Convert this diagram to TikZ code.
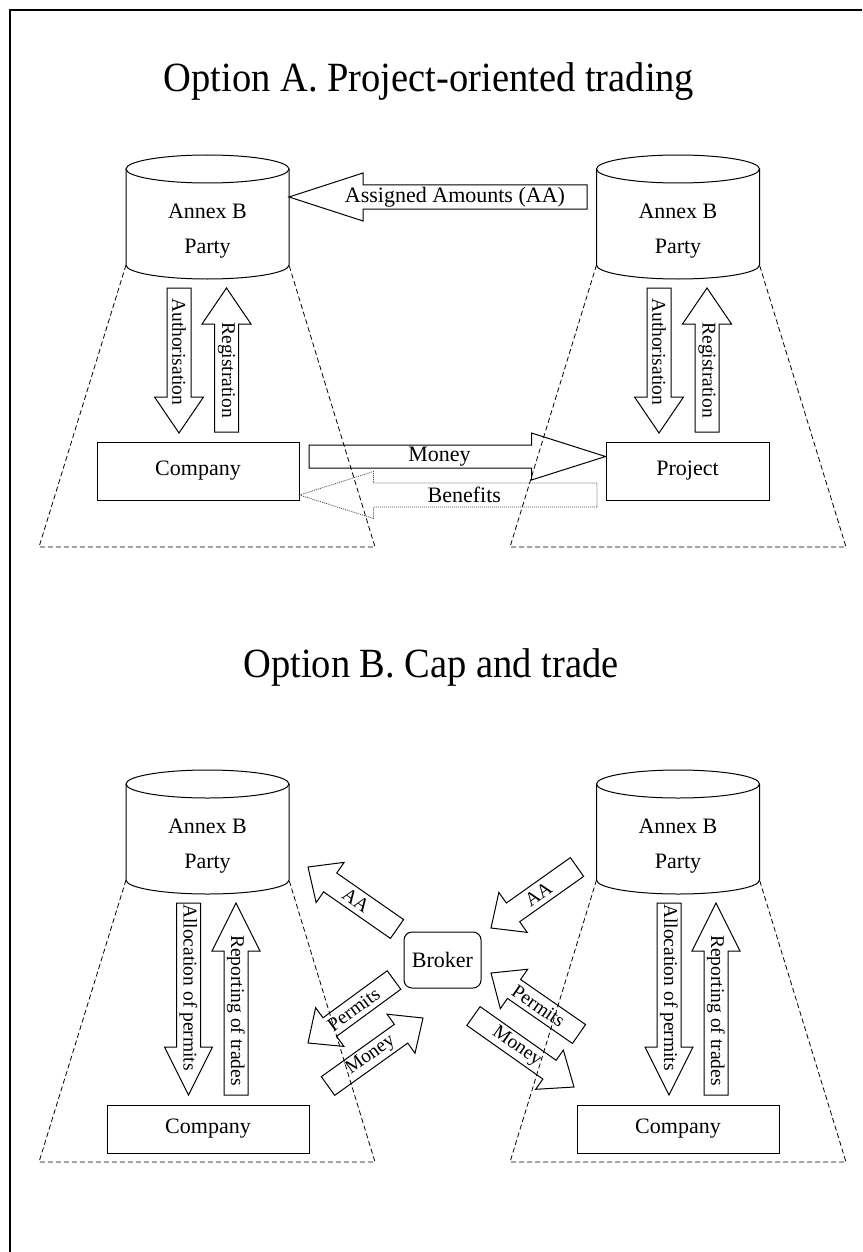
\documentclass[tikz,border=0pt]{standalone}
\usepackage{fontspec}
\setmainfont{Liberation Serif}
\usetikzlibrary{calc}
\tikzset{
  outl/.style={line width=1pt},
  frameline/.style={line width=2.6pt},
  trap/.style={line width=0.8pt, dash pattern=on 5pt off 3pt},
  arr/.style={line width=1pt, line join=miter},
  dotarr/.style={line width=0.8pt, draw=black!70, dash pattern=on 1pt off 1pt},
  lbl/.style={font=\fontsize{22}{26}\selectfont, inner sep=0pt},
  vlbl/.style={font=\fontsize{19.5}{23}\selectfont, inner sep=0pt},
  cyltext/.style={font=\fontsize{22}{35}\selectfont, align=center, inner sep=0pt},
  titletext/.style={font=\fontsize{38.5}{40}\selectfont, inner sep=0pt, anchor=base},
  boxnode/.style={draw, line width=1pt, inner sep=0pt, font=\fontsize{22}{26}\selectfont},
}
% tail, tip, shaft half width, head half width, head length
\newcommand\blockarrow[6][]{%
  \coordinate (hb) at ($(#3)!#6!(#2)$);
  \draw[arr,#1] ($(#2)!#4!90:(#3)$) -- ($(hb)!#4!90:(#3)$) -- ($(hb)!#5!90:(#3)$) -- (#3)
    -- ($(hb)!#5!-90:(#3)$) -- ($(hb)!#4!-90:(#3)$) -- ($(#2)!#4!-90:(#3)$) -- cycle;
}
% name, centre x, top-ellipse y
\newcommand\annexdrum[3]{%
  \draw[outl] (#2,#3) ellipse [x radius=81.5pt, y radius=14pt];
  \draw[outl] (#2-81.5,#3) -- (#2-81.5,#3+96)
     arc [start angle=180, end angle=360, x radius=81.5pt, y radius=14pt] -- (#2+81.5,#3);
  \node[cyltext] (#1) at (#2,#3+62.5) {Annex B\\Party};
  \coordinate (#1-bl) at (#2-81.5,#3+96);
  \coordinate (#1-br) at (#2+81.5,#3+96);
}
\begin{document}
\begin{tikzpicture}[x=1pt,y=-1pt]
\useasboundingbox (0,0) rectangle (862,1252);
% frame
\draw[frameline] (10,1252) -- (10,10) -- (862,10);

% ================= Option A =================
\node[titletext] (titleA) at (429,92) {\scalebox{1}[1.08]{Option A. Project-oriented trading}};

\annexdrum{partyAL}{207.5}{169}
\annexdrum{partyAR}{678}{169}

\draw[trap] (partyAL-bl) -- (39,547) -- (375,547) -- (partyAL-br);
\draw[trap] (partyAR-bl) -- (510,547) -- (846,547) -- (partyAR-br);

\node[boxnode, minimum width=202pt, minimum height=58pt] (companyA) at (198,471) {Company};
\node[boxnode, minimum width=163pt, minimum height=58pt] (project) at (687.5,471) {Project};

% Assigned Amounts
\coordinate (aaT) at (587,197);
\coordinate (aaH) at (289,197);
\blockarrow{aaT}{aaH}{12pt}{24pt}{74pt}
\path (aaT) -- (aaH) node[lbl, pos=.443, sloped] (lblAA) {Assigned Amounts (AA)};

% vertical arrows A
\coordinate (authLT) at (179,288);  \coordinate (authLH) at (179,433);
\coordinate (regLT) at (226.5,432); \coordinate (regLH) at (226.5,288);
\coordinate (authRT) at (659,288);  \coordinate (authRH) at (659,433);
\coordinate (regRT) at (707,432);   \coordinate (regRH) at (707,288);
\blockarrow{authLT}{authLH}{12pt}{24.5pt}{36pt}
\blockarrow{regLT}{regLH}{12pt}{24.5pt}{36pt}
\blockarrow{authRT}{authRH}{12pt}{24.5pt}{36pt}
\blockarrow{regRT}{regRH}{12pt}{24.5pt}{36pt}
\path (authLT) -- (authLH) node[vlbl, pos=.44, rotate=-90] (lblAuthL) {Authorisation};
\path (regLT) -- (regLH) node[vlbl, pos=.43, rotate=-90] (lblRegL) {Registration};
\path (authRT) -- (authRH) node[vlbl, pos=.44, rotate=-90] (lblAuthR) {Authorisation};
\path (regRT) -- (regRH) node[vlbl, pos=.43, rotate=-90] (lblRegR) {Registration};

% Money and Benefits
\coordinate (monAT) at (309,456.5);
\coordinate (monAH) at ($(project.west)+(0,-14.5)$);
\blockarrow{monAT}{monAH}{11.5pt}{23.5pt}{74pt}
\path (monAT) -- (monAH) node[lbl, pos=.44, sloped] (lblMonA) {Money};

\coordinate (benT) at (597,495);
\coordinate (benH) at ($(companyA.east)+(0,24)$);
\blockarrow[dotarr]{benT}{benH}{12pt}{23.5pt}{74pt}
\path (benT) -- (benH) node[lbl, pos=.446, sloped] (lblBen) {Benefits};

% ================= Option B =================
\node[titletext] (titleB) at (431,677) {\scalebox{1}[1.08]{Option B. Cap and trade}};

\annexdrum{partyBL}{207.5}{784}
\annexdrum{partyBR}{678}{784}

\draw[trap] (partyBL-bl) -- (39,1162) -- (375,1162) -- (partyBL-br);
\draw[trap] (partyBR-bl) -- (510,1162) -- (846,1162) -- (partyBR-br);

\node[boxnode, minimum width=202pt, minimum height=48pt] (companyBL) at (208,1129) {Company};
\node[boxnode, minimum width=202pt, minimum height=48pt] (companyBR) at (678,1129) {Company};

\node[boxnode, rounded corners=8pt, minimum width=77pt, minimum height=56pt] (broker) at (442.5,960) {Broker};

% vertical arrows B
\coordinate (allLT) at (188.5,903); \coordinate (allLH) at (188.5,1095);
\coordinate (repLT) at (236,1095);  \coordinate (repLH) at (236,903);
\coordinate (allRT) at (669,903);   \coordinate (allRH) at (669,1095);
\coordinate (repRT) at (716,1095);  \coordinate (repRH) at (716,903);
\blockarrow{allLT}{allLH}{12pt}{24pt}{48pt}
\blockarrow{repLT}{repLH}{12pt}{24pt}{48pt}
\blockarrow{allRT}{allRH}{12pt}{24pt}{48pt}
\blockarrow{repRT}{repRH}{12pt}{24pt}{48pt}
\path (allLT) -- (allLH) node[vlbl, pos=.44, rotate=-90] (lblAllL) {Allocation of permits};
\path (repLT) -- (repLH) node[vlbl, pos=.44, rotate=-90] (lblRepL) {Reporting of trades};
\path (allRT) -- (allRH) node[vlbl, pos=.44, rotate=-90] (lblAllR) {Allocation of permits};
\path (repRT) -- (repRH) node[vlbl, pos=.44, rotate=-90] (lblRepR) {Reporting of trades};

% diagonal arrows around broker
\coordinate (aaLT) at (397,929);  \coordinate (aaLH) at (308,867);
\coordinate (aaRT) at (577,867);  \coordinate (aaRH) at (491,928);
\coordinate (perLT) at (394,980); \coordinate (perLH) at (308,1043);
\coordinate (monLT) at (328,1086);\coordinate (monLH) at (423,1018);
\coordinate (perRT) at (579,1034);\coordinate (perRH) at (491,973);
\coordinate (monRT) at (473.5,1016);\coordinate (monRH) at (574,1087);
\blockarrow{aaLT}{aaLH}{11.5pt}{24.5pt}{27pt}
\blockarrow{aaRT}{aaRH}{11.5pt}{24.5pt}{27pt}
\blockarrow{perLT}{perLH}{11.5pt}{24pt}{27pt}
\blockarrow{monLT}{monLH}{11.5pt}{24pt}{27pt}
\blockarrow{perRT}{perRH}{11.5pt}{24pt}{28pt}
\blockarrow{monRT}{monRH}{11.5pt}{24pt}{30pt}
\path (aaLT) -- (aaLH) node[vlbl, pos=.46, sloped] (lblAAL) {AA};
\path (aaRT) -- (aaRH) node[vlbl, pos=.45, sloped] (lblAAR) {AA};
\path (perLT) -- (perLH) node[vlbl, pos=.47, sloped] (lblPerL) {Permits};
\path (monLT) -- (monLH) node[vlbl, pos=.45, sloped] (lblMonL) {Money};
\path (perRT) -- (perRH) node[vlbl, pos=.46, sloped] (lblPerR) {Permits};
\path (monRT) -- (monRH) node[vlbl, pos=.43, sloped] (lblMonR) {Money};
\end{tikzpicture}
\end{document}
